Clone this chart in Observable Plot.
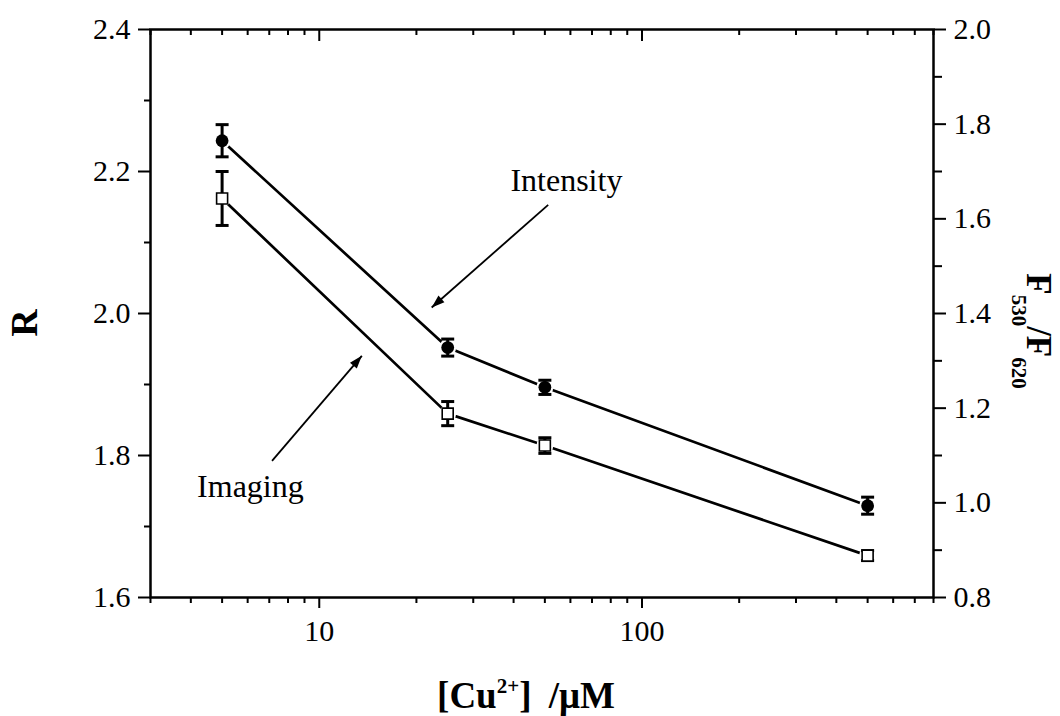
<!DOCTYPE html>
<html><head><meta charset="utf-8">
<script src="https://cdn.jsdelivr.net/npm/d3@7"></script>
<script src="https://cdn.jsdelivr.net/npm/@observablehq/plot@0.6"></script>
<style>body{margin:0;background:#fff} #chart svg{display:block}</style>
</head><body><div id="chart"></div>
<script>
// ---- data ----
const concentrations = [5, 25, 50, 500];            // [Cu2+] / µM
const imagingR = [2.162, 1.859, 1.814, 1.659];       // left axis R
const imagingErr = [0.038, 0.017, 0.011, 0.007];
const intensityF = [1.765, 1.328, 1.244, 0.994];     // right axis F530/F620
const intensityErr = [0.034, 0.018, 0.015, 0.018];

const leftMajorTicks = [1.6, 1.8, 2.0, 2.2, 2.4];
const leftMinorTicks = [1.7, 1.9, 2.1, 2.3];
const rightMajorTicks = [0.8, 1.0, 1.2, 1.4, 1.6, 1.8, 2.0];
const rightMinorTicks = [0.9, 1.1, 1.3, 1.5, 1.7, 1.9];
const xMajorTicks = [10, 100];
const xMinorTicks = [3, 4, 5, 6, 7, 8, 9, 20, 30, 40, 50, 60, 70, 80, 90, 200, 300, 400, 500, 600, 700, 800];

const annotationLabels = ["Intensity", "Imaging"];
const annotationX = [58.3, 6.12];
const annotationY = [2.173, 1.741];
const arrowX1 = [51.2, 7.14];
const arrowY1 = [2.153, 1.7925];
const arrowX2 = [22.3, 13.55];
const arrowY2 = [2.0085, 1.9404];

// ---- setup ----
const W = 1060, H = 716;
const mL = 150, mR = 127, mT = 29, mB = 119;
const plotH = H - mT - mB;
const xDomain = [3, 800], yDomain = [1.6, 2.4], fDomain = [0.8, 2.0];
const toR = f => yDomain[0] + (f - fDomain[0]) * (yDomain[1] - yDomain[0]) / (fDomain[1] - fDomain[0]);
const toF = r => fDomain[0] + (r - yDomain[0]) * (fDomain[1] - fDomain[0]) / (yDomain[1] - yDomain[0]);
const serif = "'Liberation Serif', 'Times New Roman', Times, serif";
const tickFont = 30;

const imaging = concentrations.map((c, i) => ({c, y: imagingR[i], e: imagingErr[i]}));
const intensity = concentrations.map((c, i) => ({c, y: toR(intensityF[i]), e: intensityErr[i] * (yDomain[1] - yDomain[0]) / (fDomain[1] - fDomain[0])}));
const notes = annotationLabels.map((t, i) => ({t, x: annotationX[i], y: annotationY[i]}));
const arrows = arrowX1.map((_, i) => ({x1: arrowX1[i], y1: arrowY1[i], x2: arrowX2[i], y2: arrowY2[i]}));

// mirror of Plot's scales to orient the arrowheads in screen space
const xs = d3.scaleLog(xDomain, [mL, W - mR]);
const ys = d3.scaleLinear(yDomain, [H - mB, mT]);
function headSymbol(a) {
  const dx = xs(a.x2) - xs(a.x1), dy = ys(a.y2) - ys(a.y1);
  const len = Math.hypot(dx, dy), ux = dx / len, uy = dy / len;
  const L = 13, w = 4.5;
  return {draw(ctx) {
    ctx.moveTo(0, 0);
    ctx.lineTo(-ux * L - uy * w, -uy * L + ux * w);
    ctx.lineTo(-ux * L + uy * w, -uy * L - ux * w);
    ctx.closePath();
  }};
}
const capSymbol = {draw(ctx) { ctx.moveTo(-6.5, 0); ctx.lineTo(6.5, 0); }};

const marks = [
  Plot.frame({stroke: "black", strokeWidth: 2.5}),
  // left axis
  Plot.axisY({anchor: "left", ticks: leftMajorTicks, tickSize: 12, tickPadding: 8, strokeWidth: 2, fontSize: tickFont, tickFormat: d => d.toFixed(1), label: null}),
  Plot.axisY({anchor: "left", ticks: leftMinorTicks, tickSize: 6, strokeWidth: 2, tickFormat: () => "", label: null}),
  // right axis (F530/F620)
  Plot.axisY({anchor: "right", ticks: rightMajorTicks.map(toR), tickSize: 12, tickPadding: 8, strokeWidth: 2, fontSize: tickFont, tickFormat: d => toF(d).toFixed(1), label: null}),
  Plot.axisY({anchor: "right", ticks: rightMinorTicks.map(toR), tickSize: 8, strokeWidth: 2, tickFormat: () => "", label: null}),
  // bottom axis
  Plot.axisX({anchor: "bottom", ticks: xMajorTicks, tickSize: 11, tickPadding: 11, strokeWidth: 2, fontSize: tickFont, tickFormat: d => String(d), label: null}),
  Plot.axisX({anchor: "bottom", ticks: xMinorTicks, tickSize: 6, strokeWidth: 2, tickFormat: () => "", label: null}),
  // top edge: ticks pointing inward
  Plot.ruleX(xMajorTicks, {x: d => d, insetBottom: plotH - 12, stroke: "black", strokeWidth: 2}),
  Plot.ruleX(xMinorTicks, {x: d => d, insetBottom: plotH - 6, stroke: "black", strokeWidth: 2}),
  // series lines
  Plot.line(intensity, {x: "c", y: "y", stroke: "black", strokeWidth: 2.7}),
  Plot.line(imaging, {x: "c", y: "y", stroke: "black", strokeWidth: 2.7}),
  // white halos to leave small gaps around markers
  Plot.dot(intensity, {x: "c", y: "y", r: 8.5, fill: "white", stroke: "none"}),
  Plot.dot(imaging, {x: "c", y: "y", r: 8.5, fill: "white", stroke: "none"}),
  // error bars
  Plot.ruleX(intensity, {x: "c", y1: d => d.y - d.e, y2: d => d.y + d.e, stroke: "black", strokeWidth: 3}),
  Plot.ruleX(imaging, {x: "c", y1: d => d.y - d.e, y2: d => d.y + d.e, stroke: "black", strokeWidth: 3}),
  Plot.dot(intensity.flatMap(d => [{c: d.c, y: d.y - d.e}, {c: d.c, y: d.y + d.e}]), {x: "c", y: "y", symbol: capSymbol, fill: "none", stroke: "black", strokeWidth: 3}),
  Plot.dot(imaging.flatMap(d => [{c: d.c, y: d.y - d.e}, {c: d.c, y: d.y + d.e}]), {x: "c", y: "y", symbol: capSymbol, fill: "none", stroke: "black", strokeWidth: 3}),
  // markers
  Plot.dot(intensity, {x: "c", y: "y", r: 6.4, fill: "black", stroke: "none"}),
  Plot.dot(imaging, {x: "c", y: "y", r: 6.2, symbol: "square", fill: "white", stroke: "black", strokeWidth: 1.6}),
  // annotations
  Plot.link(arrows, {x1: "x1", y1: "y1", x2: "x2", y2: "y2", stroke: "black", strokeWidth: 1.8}),
  ...arrows.map(a => Plot.dot([a], {x: "x2", y: "y2", symbol: headSymbol(a), fill: "black", stroke: "none"})),
  Plot.text(notes, {x: "x", y: "y", text: "t", fontSize: 32, fontFamily: serif, textAnchor: "middle", lineAnchor: "bottom", fill: "black"})
];

const svg = Plot.plot({
  width: W, height: H,
  marginLeft: mL, marginRight: mR, marginTop: mT, marginBottom: mB,
  x: {type: "log", domain: xDomain},
  y: {domain: yDomain},
  style: {fontFamily: serif, fontSize: tickFont + "px", background: "white", color: "black", overflow: "visible"},
  marks
});

// axis titles with sub/superscripts
const s = d3.select(svg);
s.append("text").attr("transform", "translate(37,323) rotate(-90)")
  .attr("text-anchor", "middle").attr("font-family", serif).attr("font-weight", "bold")
  .attr("font-size", 38).attr("fill", "black").text("R");

const rt = s.append("text").attr("transform", "translate(1027,331) rotate(90)")
  .attr("text-anchor", "middle").attr("font-family", serif).attr("font-weight", "bold")
  .attr("font-size", 35).attr("fill", "black");
rt.append("tspan").text("F");
rt.append("tspan").attr("font-size", 21).attr("dy", 15).text("530");
rt.append("tspan").attr("dy", -15).text("/F");
rt.append("tspan").attr("font-size", 21).attr("dy", 15).text("620");

const xt = s.append("text").attr("x", 526).attr("y", 708)
  .attr("text-anchor", "middle").attr("font-family", serif).attr("font-weight", "bold")
  .attr("font-size", 37).attr("fill", "black");
xt.append("tspan").text("[Cu");
xt.append("tspan").attr("font-size", 21).attr("dy", -15).text("2+");
xt.append("tspan").attr("dy", 15).text("]");
xt.append("tspan").attr("dx", 8).text(" /μM");

document.getElementById("chart").appendChild(svg);
</script>
</body></html>
